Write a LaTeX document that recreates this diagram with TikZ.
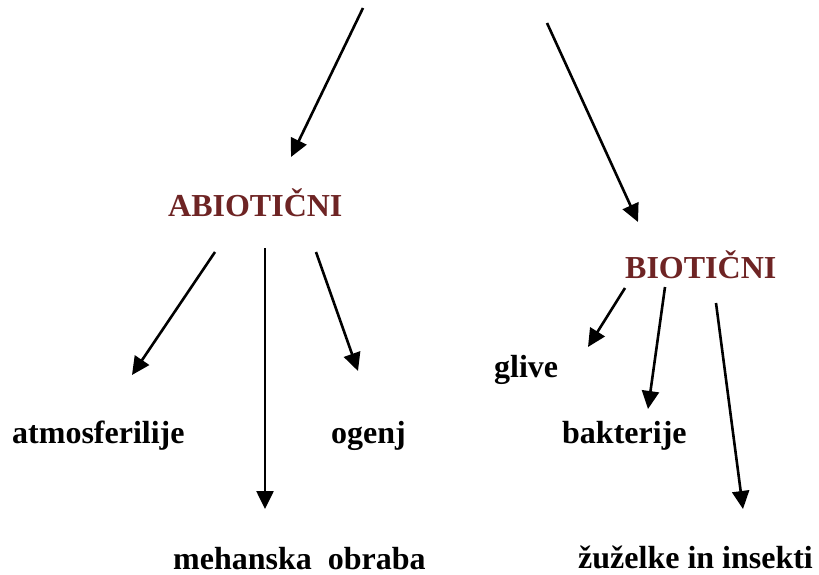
\documentclass[tikz,border=0pt]{standalone}
\usepackage{fontspec}
\setmainfont{Liberation Serif}
\usetikzlibrary{arrows.meta}
\definecolor{maroon}{HTML}{6E2424}
\tikzset{
  word/.style={inner sep=0pt,anchor=base west,font=\fontsize{32}{38}\selectfont\bfseries},
  head/.style={word,text=maroon},
  branch/.style={-{Triangle[length=18pt,width=17pt]},line width=2.6pt}
}
\begin{document}
\begin{tikzpicture}[x=1pt,y=-1pt]
  \useasboundingbox (0,0) rectangle (819,575);

  % the two kinds
  \node[head] (abio) at (168,216) {ABIOTIČNI};
  \node[head] (bio)  at (625,278) {BIOTIČNI};

  % abiotic factors
  \node[word] (atmo) at (12,443)  {atmosferilije};
  \node[word] (fire) at (331,443) {ogenj};
  \node[word] (wear) at (173,569) {mehanska\ \ obraba};

  % biotic factors
  \node[word] (fungi) at (494,377) {glive};
  \node[word] (bact)  at (562,443) {bakterije};
  \node[word] (bugs)  at (578,568) {žuželke in insekti};

  % arrow ends
  \coordinate (topl) at (363,8);
  \coordinate (topr) at (547,23);
  \coordinate (abio-in) at (291,157);
  \coordinate (bio-in)  at (638,222);
  \coordinate (abio-l) at (215,252);
  \coordinate (abio-m) at (265,248);
  \coordinate (abio-r) at (316,252);
  \coordinate (atmo-in) at (132,375);
  \coordinate (wear-in) at (265,509);
  \coordinate (fire-in) at (358,371);
  \coordinate (bio-l) at (625,288);
  \coordinate (bio-m) at (665,287);
  \coordinate (bio-r) at (716,303);
  \coordinate (fungi-in) at (588,347);
  \coordinate (bact-in)  at (648,409);
  \coordinate (bugs-in)  at (743,509);

  \draw[branch] (topl) -- (abio-in);
  \draw[branch] (topr) -- (bio-in);
  \draw[branch] (abio-l) -- (atmo-in);
  \draw[branch] (abio-m) -- (wear-in);
  \draw[branch] (abio-r) -- (fire-in);
  \draw[branch] (bio-l) -- (fungi-in);
  \draw[branch] (bio-m) -- (bact-in);
  \draw[branch] (bio-r) -- (bugs-in);
\end{tikzpicture}
\end{document}
